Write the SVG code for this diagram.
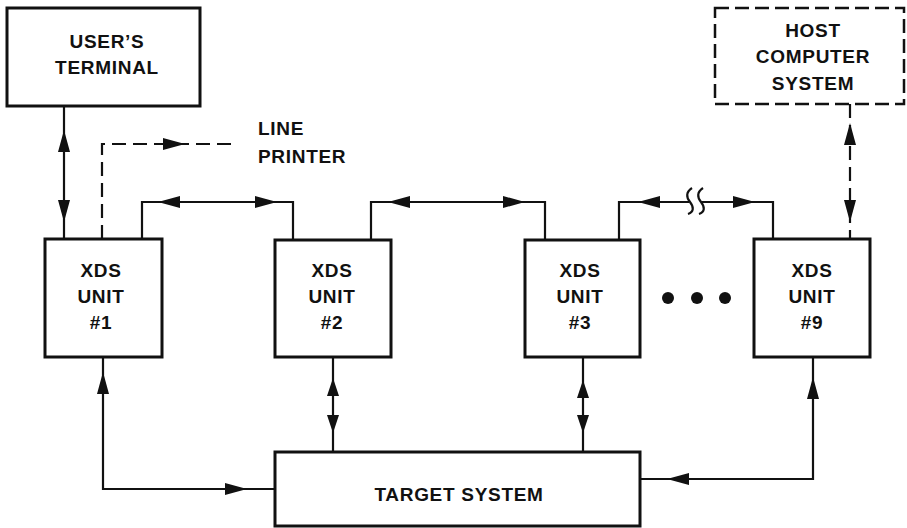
<svg xmlns="http://www.w3.org/2000/svg" xmlns:xlink="http://www.w3.org/1999/xlink" width="907" height="528" viewBox="0 0 907 528">
<style>
.box{fill:#fff;stroke:#111;stroke-width:3}
.dbox{fill:#fff;stroke:#111;stroke-width:2.5;stroke-dasharray:14,6}
.ln{fill:none;stroke:#111;stroke-width:2.2}
.dl{fill:none;stroke:#111;stroke-width:2.2;stroke-dasharray:14,7}
text{font-family:"Liberation Sans",Arial,sans-serif;font-weight:bold;font-size:19px;fill:#111;letter-spacing:0.7px}
.c{text-anchor:middle}
</style>
<defs>
<path id="ah" d="M0,0 L-22,-6 L-22,6 Z" fill="#111"/>
<path id="ahs" d="M0,0 L-18,-6 L-18,6 Z" fill="#111"/>
</defs>
<rect width="907" height="528" fill="#fff"/>
<g id="connectors">
<path class="ln" d="M64,106 V239"/>
<use xlink:href="#ah" transform="translate(64,130) rotate(-90)"/>
<use xlink:href="#ah" transform="translate(64,222) rotate(90)"/>
<path class="dl" d="M102,239 V144 H232"/>
<use xlink:href="#ah" transform="translate(185,144)"/>
<path class="ln" d="M142,239 V202 H293 V240"/>
<use xlink:href="#ah" transform="translate(158,202) rotate(180)"/>
<use xlink:href="#ah" transform="translate(277,202)"/>
<path class="ln" d="M371,240 V202 H545 V240"/>
<use xlink:href="#ah" transform="translate(388,202) rotate(180)"/>
<use xlink:href="#ah" transform="translate(525,202)"/>
<path class="ln" d="M619,240 V202 H689 M701,202 H773 V239"/>
<path class="ln" stroke-width="2.6" d="M692,188 C686,192 686,197 690,202 C694,207 694,212 688,214"/>
<path class="ln" stroke-width="2.6" d="M703,188 C697,192 697,197 701,202 C705,207 705,212 699,214"/>
<use xlink:href="#ah" transform="translate(638,202) rotate(180)"/>
<use xlink:href="#ah" transform="translate(755,202)"/>
<path class="dl" d="M850,104 V239"/>
<use xlink:href="#ah" transform="translate(850,123) rotate(-90)"/>
<use xlink:href="#ah" transform="translate(850,222) rotate(90)"/>
<path class="ln" d="M103,357 V489 H275"/>
<use xlink:href="#ah" transform="translate(103,372) rotate(-90)"/>
<use xlink:href="#ah" transform="translate(247,489)"/>
<path class="ln" d="M333,357 V452"/>
<use xlink:href="#ahs" transform="translate(333,378) rotate(-90)"/>
<use xlink:href="#ahs" transform="translate(333,433) rotate(90)"/>
<path class="ln" d="M583,357 V452"/>
<use xlink:href="#ahs" transform="translate(583,380) rotate(-90)"/>
<use xlink:href="#ahs" transform="translate(583,433) rotate(90)"/>
<path class="ln" d="M813,357 V479 H640"/>
<use xlink:href="#ah" transform="translate(813,377) rotate(-90)"/>
<use xlink:href="#ah" transform="translate(667,479) rotate(180)"/>
</g>
<g id="terminal">
<rect class="box" x="7" y="8" width="193" height="98"/>
<text class="c" x="107" y="48">USER’S</text>
<text class="c" x="107" y="74">TERMINAL</text>
</g>
<g id="printer">
<text x="258" y="135">LINE</text>
<text x="258" y="163">PRINTER</text>
</g>
<g id="host">
<rect class="dbox" x="715" y="8" width="189" height="96"/>
<text class="c" x="813" y="37">HOST</text>
<text class="c" x="813" y="63">COMPUTER</text>
<text class="c" x="813" y="90">SYSTEM</text>
</g>
<g id="xds1">
<rect class="box" x="45" y="239" width="117" height="118"/>
<text class="c" x="101" y="277">XDS</text>
<text class="c" x="101" y="303">UNIT</text>
<text class="c" x="101" y="329">#1</text>
</g>
<g id="xds2">
<rect class="box" x="275" y="240" width="116" height="117"/>
<text class="c" x="332" y="277">XDS</text>
<text class="c" x="332" y="303">UNIT</text>
<text class="c" x="332" y="329">#2</text>
</g>
<g id="xds3">
<rect class="box" x="525" y="240" width="115" height="117"/>
<text class="c" x="580" y="277">XDS</text>
<text class="c" x="580" y="303">UNIT</text>
<text class="c" x="580" y="329">#3</text>
</g>
<g id="dots">
<circle cx="668" cy="298" r="6" fill="#111"/>
<circle cx="697" cy="298" r="6" fill="#111"/>
<circle cx="725" cy="298" r="6" fill="#111"/>
</g>
<g id="xds9">
<rect class="box" x="754" y="239" width="116" height="118"/>
<text class="c" x="812" y="277">XDS</text>
<text class="c" x="812" y="303">UNIT</text>
<text class="c" x="812" y="329">#9</text>
</g>
<g id="target">
<rect class="box" x="275" y="452" width="365" height="74"/>
<text class="c" x="459" y="501">TARGET SYSTEM</text>
</g>
</svg>
